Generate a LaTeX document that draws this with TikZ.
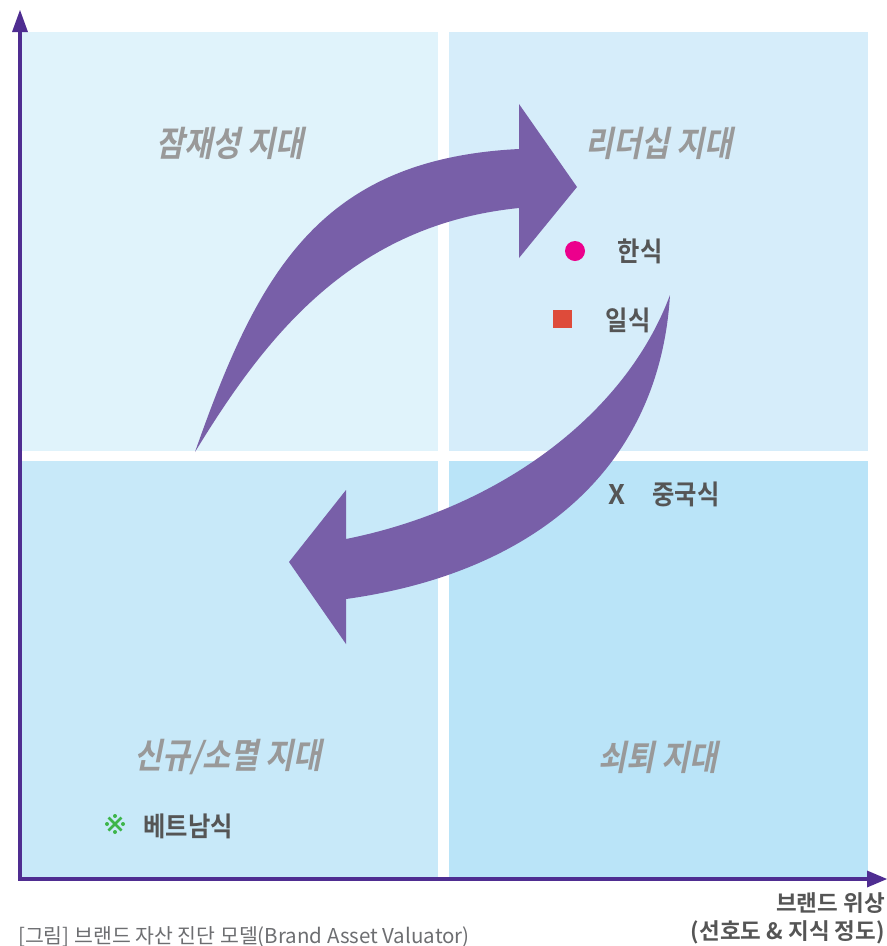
\documentclass[tikz,border=0pt]{standalone}
\usepackage{fontspec}
\newfontfamily\krreg{Noto Sans CJK KR}
\newfontfamily\krbold{Noto Sans CJK KR Bold}[FakeStretch=0.9]
\newfontfamily\krboldwide{Noto Sans CJK KR Bold}
\newfontfamily\krboldit{Noto Sans CJK KR Bold}[FakeStretch=0.87,FakeSlant=0.2]
\definecolor{qtl}{HTML}{E0F3FB}
\definecolor{qtr}{HTML}{D6EDFA}
\definecolor{qbl}{HTML}{C8E9F9}
\definecolor{qbr}{HTML}{BAE4F8}
\definecolor{axiscol}{HTML}{4F2D91}
\definecolor{arrowcol}{HTML}{785FA8}
\definecolor{zonegray}{HTML}{999999}
\definecolor{labgray}{HTML}{555555}
\definecolor{capgray}{HTML}{6D6E71}
\definecolor{pinkdot}{HTML}{EC008C}
\definecolor{redsq}{HTML}{DE4B3A}
\definecolor{greenmk}{HTML}{3DB54A}
\tikzset{
  zone/.style={text=zonegray,font=\krboldit\fontsize{35}{35}\selectfont,inner sep=0pt},
  itemlab/.style={text=labgray,font=\krbold\fontsize{27}{27}\selectfont,inner sep=0pt},
  axislab/.style={text=labgray,font=\krboldwide\fontsize{22.5}{22.5}\selectfont,inner sep=0pt,anchor=east},
  bigarrow/.style={fill=arrowcol},
  axisline/.style={draw=axiscol,line width=4pt},
  greenline/.style={draw=greenmk,line width=2.6pt}
}
\begin{document}
\begin{tikzpicture}[x=1pt,y=-1pt]
\useasboundingbox (0,0) rectangle (887,946);
% quadrants
\fill[qtl] (22,32) rectangle (437.5,450.5);
\fill[qtr] (449,32) rectangle (868,450.5);
\fill[qbl] (22,461) rectangle (437.5,878);
\fill[qbr] (449,461) rectangle (868,878);
% axes
\draw[axisline] (20,880.5) -- (20,30);
\fill[axiscol] (20,10) -- (28,32) -- (12,32) -- cycle;
\draw[axisline] (18,879) -- (869,879);
\fill[axiscol] (887,879) -- (867,870.5) -- (867,887.5) -- cycle;
% zone labels
\node[zone] (zTL) at (230,143) {잠재성 지대};
\node[zone] (zTR) at (659,143) {리더십 지대};
\node[zone] (zBL) at (228,757) {신규/소멸 지대};
\node[zone] (zBR) at (658,757) {쇠퇴 지대};
% big curved arrows
\fill[bigarrow] (195,452) .. controls (257.7,273.4) and (319,159) .. (519,149)
  -- (519,104) -- (577,187) -- (519,258) -- (519,208)
  .. controls (349,225) and (262.6,341.5) .. (195,452) -- cycle;
\fill[bigarrow] (670,295) .. controls (624.5,417) and (496,509) .. (346,539)
  -- (346,490) -- (289,562) -- (346,644) -- (346,599)
  .. controls (526,574) and (659,475) .. (670,295) -- cycle;
% markers
\fill[pinkdot] (575,251) circle (10);
\node[itemlab] (han) at (640,251) {한식};
\fill[redsq] (553,309.5) rectangle (572,328);
\node[itemlab] (il) at (628,320) {일식};
\node[itemlab,font=\krboldwide\fontsize{27}{27}\selectfont] (xmk) at (616.5,494) {X};
\node[itemlab] (jung) at (686,494) {중국식};
% reference mark (green)
\coordinate (vmk) at (115,824);
\draw[greenline] (108.5,817.5) -- (121.5,830.5);
\draw[greenline] (121.5,817.5) -- (108.5,830.5);
\fill[greenmk] (115,816) circle (2);
\fill[greenmk] (115,832) circle (2);
\fill[greenmk] (107,824) circle (2);
\fill[greenmk] (123,824) circle (2);
\node[itemlab] (viet) at (188,826) {베트남식};
% axis labels
\node[axislab] (ax1) at (885,903) {브랜드 위상};
\node[axislab] (ax2) at (885,932) {(선호도 \& 지식 정도)};
% caption
\node[text=capgray,font=\krreg\fontsize{20.5}{20.5}\selectfont,inner sep=0pt,anchor=west] (cap) at (18,937) {[그림] 브랜드 자산 진단 모델(Brand Asset Valuator)};
\end{tikzpicture}
\end{document}
